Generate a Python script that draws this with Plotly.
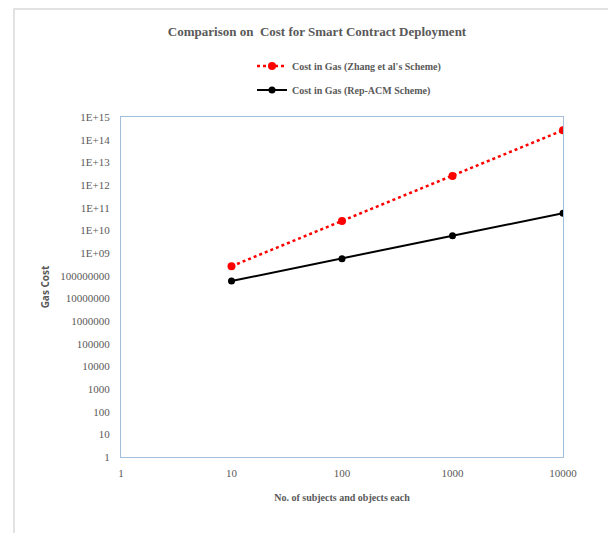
import plotly.graph_objects as go

# ---- data ----
subjects = [10, 100, 1000, 10000]
zhang_gas = [2.6e8, 2.6e10, 2.5e12, 2.6e14]
rep_acm_gas = [5.8e7, 5.6e8, 5.8e9, 5.7e10]

x_tickvals = [1, 10, 100, 1000, 10000]
x_ticktext = ["1", "10", "100", "1000", "10000"]
y_tickvals = [10 ** k for k in range(16)]
y_ticktext = ["1", "10", "100", "1000", "10000", "100000", "1000000", "10000000",
              "100000000", "1E+09", "1E+10", "1E+11", "1E+12", "1E+13", "1E+14", "1E+15"]

SERIF = "Liberation Serif, Times New Roman, serif"
GRAY = "#595959"
AXIS = "#a3bfdc"

fig = go.Figure()
fig.add_trace(go.Scatter(
    x=subjects, y=zhang_gas, mode="lines+markers",
    name="<b>Cost in Gas (Zhang et al's Scheme)</b>",
    line=dict(color="#ff0000", width=2.5, dash="dot"),
    marker=dict(color="#ff0000", size=8),
    legend="legend", showlegend=True,
))
fig.add_trace(go.Scatter(
    x=subjects, y=rep_acm_gas, mode="lines+markers",
    name="<b>Cost in Gas (Rep-ACM Scheme)</b>",
    line=dict(color="#000000", width=2),
    marker=dict(color="#000000", size=7),
    legend="legend2", showlegend=True,
))

# the page body has an 8px margin, so work in page pixels and shift by 8
OFF = 8
W, H = 616 - OFF, 533 - OFF
L, R, T, B = 121 - OFF, 563 - OFF, 117 - OFF, 457 - OFF

def px_x(p):
    return (p - OFF - L) / (R - L)

def px_y(p):
    return (B - (p - OFF)) / (B - T)

legend_common = dict(
    font=dict(family=SERIF, size=10, color=GRAY),
    bgcolor="rgba(0,0,0,0)", borderwidth=0,
    xanchor="left", yanchor="middle", itemwidth=30, visible=True,
)

fig.update_layout(
    width=W, height=H,
    margin=dict(l=L, r=W - R, t=T, b=H - B),
    paper_bgcolor="white", plot_bgcolor="white",
    showlegend=True,
    title=dict(
        text="<b>Comparison on  Cost for Smart Contract Deployment</b>",
        x=(317 - OFF) / W, xanchor="center", xref="container",
        y=1 - (31 - OFF) / H, yanchor="middle", yref="container",
        font=dict(family=SERIF, size=13, color=GRAY),
    ),
    legend=dict(x=px_x(252), y=px_y(66), **legend_common),
    legend2=dict(x=px_x(252), y=px_y(90), **legend_common),
    xaxis=dict(
        type="log", range=[0, 4],
        tickvals=x_tickvals, ticktext=x_ticktext,
        showgrid=False, zeroline=False,
        showline=True, linecolor=AXIS, linewidth=1.3, mirror=True,
        ticks="", ticklabelstandoff=6,
        tickfont=dict(family=SERIF, size=11, color=GRAY),
        title=dict(text="<b>No. of subjects and objects each</b>",
                   font=dict(family=SERIF, size=10, color=GRAY), standoff=15),
    ),
    yaxis=dict(
        type="log", range=[0, 15],
        tickvals=y_tickvals, ticktext=y_ticktext,
        showgrid=False, zeroline=False,
        showline=True, linecolor=AXIS, linewidth=1.3, mirror=True,
        ticks="", ticklabelstandoff=8,
        tickfont=dict(family=SERIF, size=11, color=GRAY),
        title=dict(text="<b>Gas Cost</b>",
                   font=dict(family="Open Sans, Liberation Sans, sans-serif", size=10, color=GRAY),
                   standoff=8),
    ),
    shapes=[dict(
        type="rect", xref="paper", yref="paper",
        x0=px_x(14), x1=px_x(700), y0=px_y(620), y1=px_y(9),
        line=dict(color="#d9d9d9", width=1.5), fillcolor="rgba(0,0,0,0)",
        layer="below",
    )],
)

fig.write_html("out.html")
